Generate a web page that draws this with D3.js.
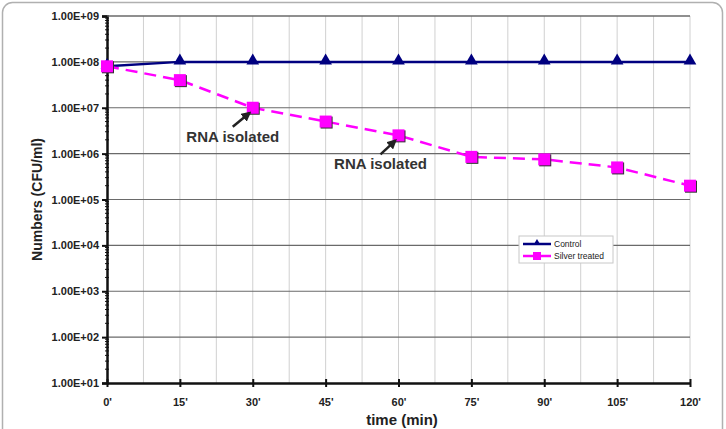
<!DOCTYPE html>
<html>
<head>
<meta charset="utf-8">
<script src="https://cdn.jsdelivr.net/npm/d3@7"></script>
<style>
  body { margin: 0; background: #fff; }
  svg { display: block; font-family: Arial, "Liberation Sans", sans-serif; }
</style>
</head>
<body>
<svg id="chart" width="726" height="429"></svg>
<script>
const times = [0, 15, 30, 45, 60, 75, 90, 105, 120]
const timeLabels = ["0'", "15'", "30'", "45'", "60'", "75'", "90'", "105'", "120'"]
const control = [8e7, 1e8, 1e8, 1e8, 1e8, 1e8, 1e8, 1e8, 1e8]
const silver = [8e7, 4e7, 1e7, 5e6, 2.5e6, 8.5e5, 7.5e5, 5e5, 2e5]
const decades = [1e1, 1e2, 1e3, 1e4, 1e5, 1e6, 1e7, 1e8, 1e9]
const notes = [
  { t: 30, v: 1e7, text: 'RNA isolated', dx: -20, dy: 34 },
  { t: 60, v: 2.5e6, text: 'RNA isolated', dx: -18, dy: 34 }
]

const svg = d3.select('#chart')

// outer frame
svg.append('rect')
  .attr('x', 2.5).attr('y', 2.5)
  .attr('width', 720).attr('height', 440)
  .attr('rx', 10)
  .attr('fill', 'none')
  .attr('stroke', '#b0b0b0')
  .attr('stroke-width', 1.5)

const x = d3.scaleLinear().domain([0, 120]).range([107, 690])
const y = d3.scaleLog().domain([1e1, 1e9]).range([383, 16])

const defs = svg.append('defs')
defs.append('marker')
  .attr('id', 'arrow')
  .attr('viewBox', '0 0 10 10')
  .attr('refX', 8).attr('refY', 5)
  .attr('markerWidth', 4).attr('markerHeight', 4)
  .attr('orient', 'auto')
  .append('path')
  .attr('d', 'M0,0 L10,5 L0,10 z')
  .attr('fill', '#222')

const g = svg.append('g')

// vertical gridlines every 7.5 min
g.append('g')
  .selectAll('line')
  .data(d3.range(7.5, 120.1, 7.5))
  .join('line')
  .attr('x1', d => x(d)).attr('x2', d => x(d))
  .attr('y1', y(1e9)).attr('y2', y(1e1))
  .attr('stroke', '#d0d0d0')
  .attr('stroke-width', 1)

// horizontal decade gridlines
g.append('g')
  .selectAll('line')
  .data(decades.slice(1))
  .join('line')
  .attr('x1', x(0)).attr('x2', x(120))
  .attr('y1', d => y(d)).attr('y2', d => y(d))
  .attr('stroke', '#6a6a6a')
  .attr('stroke-width', 1.2)

// y axis: minor ticks
const minor = y.ticks().filter(d => !decades.includes(d))
g.append('g')
  .selectAll('line')
  .data(minor)
  .join('line')
  .attr('x1', x(0) - 2).attr('x2', x(0) + 2)
  .attr('y1', d => y(d)).attr('y2', d => y(d))
  .attr('stroke', '#111')
  .attr('stroke-width', 1)

const yAxis = d3.axisLeft(y)
  .tickValues(decades)
  .tickFormat(d => d3.format('.2e')(d).toUpperCase().replace(/E([+-])(\d)$/, 'E$10$2'))
  .tickSize(5)
  .tickPadding(3)

g.append('g')
  .attr('transform', `translate(${x(0)},0)`)
  .call(yAxis)
  .call(s => s.select('.domain').attr('stroke', '#111').attr('stroke-width', 2.5))
  .call(s => s.selectAll('.tick line').attr('stroke', '#111').attr('stroke-width', 2))
  .call(s => s.selectAll('.tick text')
    .attr('font-size', 11).attr('font-weight', 'bold').attr('fill', '#222'))

const xAxis = d3.axisBottom(x)
  .tickValues(times)
  .tickFormat((d, i) => timeLabels[i])
  .tickSize(4)
  .tickSizeOuter(0)
  .tickPadding(11)

g.append('g')
  .attr('transform', `translate(0,${y(1e1)})`)
  .call(xAxis)
  .call(s => s.select('.domain').attr('stroke', '#111').attr('stroke-width', 2.5))
  .call(s => s.selectAll('.tick line').attr('y1', -4).attr('stroke', '#111').attr('stroke-width', 2))
  .call(s => s.selectAll('.tick text')
    .attr('font-size', 11).attr('font-weight', 'bold').attr('fill', '#222'))

// top border
g.append('line')
  .attr('x1', x(0)).attr('x2', x(120))
  .attr('y1', y(1e9)).attr('y2', y(1e9))
  .attr('stroke', '#6a6a6a').attr('stroke-width', 1.2)

// axis titles
svg.append('text')
  .attr('transform', `translate(42,${(y(1e9) + y(1e1)) / 2}) rotate(-90)`)
  .attr('text-anchor', 'middle')
  .attr('font-size', 14).attr('font-weight', 'bold').attr('fill', '#222')
  .text('Numbers (CFU/ml)')

svg.append('text')
  .attr('x', 402).attr('y', 425)
  .attr('text-anchor', 'middle')
  .attr('font-size', 15).attr('font-weight', 'bold').attr('fill', '#222')
  .text('time (min)')

// series
const line = d3.line().x(d => x(d[0])).y(d => y(d[1]))
const controlPts = times.map((t, i) => [t, control[i]])
const silverPts = times.map((t, i) => [t, silver[i]])

g.append('path')
  .datum(controlPts)
  .attr('d', line)
  .attr('fill', 'none')
  .attr('stroke', '#000080')
  .attr('stroke-width', 2.5)

g.append('path')
  .datum(silverPts)
  .attr('d', line)
  .attr('fill', 'none')
  .attr('stroke', '#ff00ff')
  .attr('stroke-width', 2.5)
  .attr('stroke-dasharray', '12,7')

const tri = d3.symbol().type(d3.symbolTriangle).size(70)
g.append('g')
  .selectAll('path')
  .data(controlPts)
  .join('path')
  .attr('d', tri)
  .attr('transform', d => `translate(${x(d[0])},${y(d[1]) - 1})`)
  .attr('fill', '#000080')

const sq = g.append('g')
sq.selectAll('rect.shadow')
  .data(silverPts)
  .join('rect')
  .attr('class', 'shadow')
  .attr('x', d => x(d[0]) - 5).attr('y', d => y(d[1]) - 5)
  .attr('width', 12).attr('height', 12)
  .attr('fill', '#333')
sq.selectAll('rect.mark')
  .data(silverPts)
  .join('rect')
  .attr('class', 'mark')
  .attr('x', d => x(d[0]) - 6).attr('y', d => y(d[1]) - 6)
  .attr('width', 12).attr('height', 12)
  .attr('fill', '#ff00ff')

// annotations
notes.forEach(n => {
  const px = x(n.t)
  const py = y(n.v)
  g.append('line')
    .attr('x1', px + n.dx).attr('y1', py + n.dy - 15)
    .attr('x2', px - 3).attr('y2', py + 5)
    .attr('stroke', '#222')
    .attr('stroke-width', 2.5)
    .attr('marker-end', 'url(#arrow)')
  g.append('text')
    .attr('x', px + n.dx).attr('y', py + n.dy)
    .attr('text-anchor', 'middle')
    .attr('font-size', 15).attr('font-weight', 'bold').attr('fill', '#333')
    .text(n.text)
})

// legend
const lg = svg.append('g').attr('transform', 'translate(519,236)')
lg.append('rect')
  .attr('width', 94).attr('height', 27)
  .attr('fill', '#fff')
  .attr('stroke', '#c8c8c8')
lg.append('line')
  .attr('x1', 4).attr('x2', 32).attr('y1', 8).attr('y2', 8)
  .attr('stroke', '#000080').attr('stroke-width', 2.5)
lg.append('path')
  .attr('d', d3.symbol().type(d3.symbolTriangle).size(22))
  .attr('transform', 'translate(18,7)')
  .attr('fill', '#000080')
lg.append('line')
  .attr('x1', 4).attr('x2', 32).attr('y1', 20).attr('y2', 20)
  .attr('stroke', '#ff00ff').attr('stroke-width', 2.5)
lg.append('rect')
  .attr('x', 14).attr('y', 16).attr('width', 8).attr('height', 8)
  .attr('fill', '#ff00ff')
lg.selectAll('text')
  .data(['Control', 'Silver treated'])
  .join('text')
  .attr('x', 35)
  .attr('y', (d, i) => 11 + i * 12)
  .attr('font-size', 8.5).attr('fill', '#222')
  .text(d => d)
</script>
</body>
</html>
